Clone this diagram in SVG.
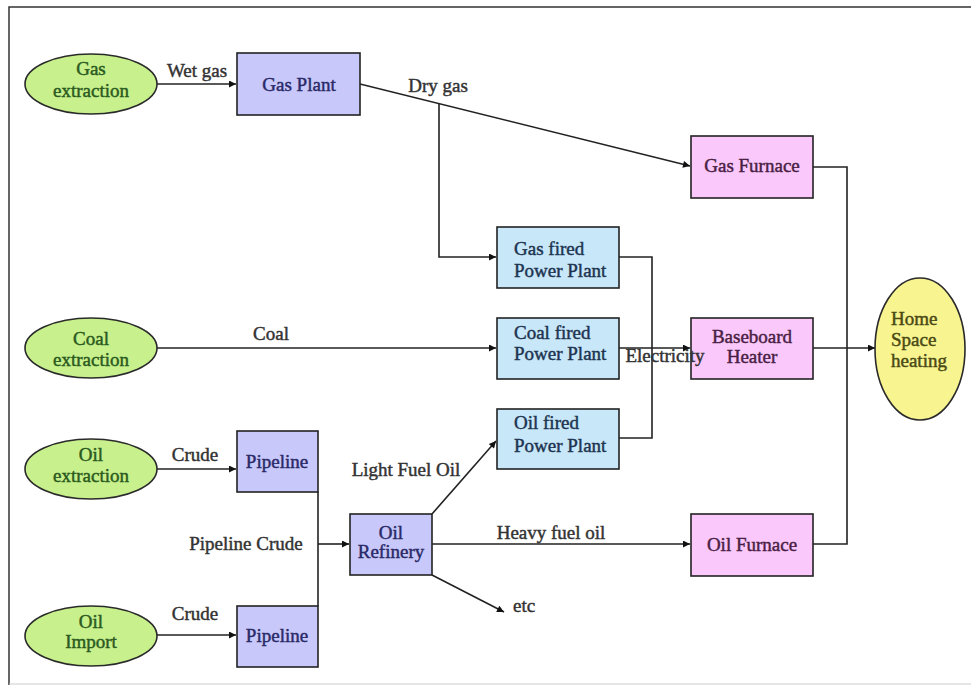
<svg xmlns="http://www.w3.org/2000/svg" width="971" height="686" viewBox="0 0 971 686">
<style>
text{font-family:"Liberation Serif","Times New Roman",serif;font-size:19px;stroke-width:0.45}
.lbl{fill:#333;stroke:#333}
.c{text-anchor:middle}
.src ellipse{fill:#c8f08c;stroke:#2a2a2a;stroke-width:1.6}
.src text{fill:#2a5a20;stroke:#2a5a20}
.pur rect{fill:#c8c8fa;stroke:#222;stroke-width:1.6}
.pur text{fill:#2a2a68;stroke:#2a2a68}
.blu rect{fill:#c8e8fa;stroke:#222;stroke-width:1.6}
.blu text{fill:#1e3450;stroke:#1e3450}
.pnk rect{fill:#fac8fa;stroke:#222;stroke-width:1.6}
.pnk text{fill:#4a1e44;stroke:#4a1e44}
.yel ellipse{fill:#f8f490;stroke:#2a2a2a;stroke-width:1.6}
.yel text{fill:#4a4a14;stroke:#4a4a14}
#connectors path,#connectors line{fill:none;stroke:#222;stroke-width:1.6}
.a{marker-end:url(#ah)}
</style>
<defs>
<marker id="ah" viewBox="0 0 10 10" refX="10" refY="5" markerWidth="9" markerHeight="7" markerUnits="userSpaceOnUse" orient="auto">
<path d="M0,0 L10,5 L0,10 z" fill="#111"/>
</marker>
</defs>
<rect x="0" y="0" width="971" height="686" fill="#fff"/>
<path d="M9,685 L9,7 L975,7" fill="none" stroke="#333" stroke-width="1.5"/>
<line x1="9" y1="684" x2="971" y2="684" stroke="#ccc" stroke-width="1"/>

<g id="connectors">
<line class="a" x1="157" y1="84" x2="236" y2="84"/>
<line class="a" x1="360" y1="84" x2="690" y2="166"/>
<path class="a" d="M439,104 L439,257 L496,257"/>
<line class="a" x1="157" y1="348" x2="496" y2="348"/>
<path d="M619,257 L652,257 L652,438 L619,438"/>
<line class="a" x1="619" y1="348" x2="690" y2="348"/>
<path d="M813,167 L847,167 L847,544 L813,544"/>
<line class="a" x1="813" y1="348" x2="875" y2="348"/>
<line class="a" x1="157" y1="469" x2="236" y2="469"/>
<line class="a" x1="157" y1="635" x2="236" y2="635"/>
<line x1="318" y1="492" x2="318" y2="606"/>
<line class="a" x1="318" y1="544" x2="349" y2="544"/>
<line class="a" x1="432" y1="514" x2="496" y2="441"/>
<line class="a" x1="432" y1="544" x2="690" y2="544"/>
<line class="a" x1="432" y1="575" x2="504" y2="612"/>
</g>

<g id="gas-extraction" class="src">
<ellipse cx="91" cy="84" rx="66" ry="30"/>
<text class="c" x="91" y="75">Gas</text>
<text class="c" x="91" y="97">extraction</text>
</g>
<g id="coal-extraction" class="src">
<ellipse cx="91" cy="348" rx="66" ry="30"/>
<text class="c" x="91" y="345">Coal</text>
<text class="c" x="91" y="366">extraction</text>
</g>
<g id="oil-extraction" class="src">
<ellipse cx="91" cy="469" rx="66" ry="30"/>
<text class="c" x="91" y="461">Oil</text>
<text class="c" x="91" y="482">extraction</text>
</g>
<g id="oil-import" class="src">
<ellipse cx="91" cy="636" rx="66" ry="30"/>
<text class="c" x="91" y="628">Oil</text>
<text class="c" x="91" y="648">Import</text>
</g>

<g id="gas-plant" class="pur">
<rect x="237" y="53" width="123" height="62"/>
<text class="c" x="299" y="91">Gas Plant</text>
</g>
<g id="pipeline-1" class="pur">
<rect x="237" y="431" width="81" height="61"/>
<text class="c" x="277" y="468">Pipeline</text>
</g>
<g id="pipeline-2" class="pur">
<rect x="237" y="606" width="81" height="61"/>
<text class="c" x="277" y="642">Pipeline</text>
</g>
<g id="oil-refinery" class="pur">
<rect x="350" y="514" width="82" height="61"/>
<text class="c" x="391" y="539">Oil</text>
<text class="c" x="391" y="558">Refinery</text>
</g>

<g id="gas-fired-power-plant" class="blu">
<rect x="497" y="227" width="122" height="61"/>
<text x="514" y="255">Gas fired</text>
<text x="514" y="277">Power Plant</text>
</g>
<g id="coal-fired-power-plant" class="blu">
<rect x="497" y="318" width="122" height="61"/>
<text x="514" y="339">Coal fired</text>
<text x="514" y="360">Power Plant</text>
</g>
<g id="oil-fired-power-plant" class="blu">
<rect x="497" y="409" width="122" height="60"/>
<text x="514" y="429">Oil fired</text>
<text x="514" y="452">Power Plant</text>
</g>

<g id="gas-furnace" class="pnk">
<rect x="691" y="136" width="122" height="62"/>
<text class="c" x="752" y="172">Gas Furnace</text>
</g>
<g id="baseboard-heater" class="pnk">
<rect x="691" y="318" width="122" height="61"/>
<text class="c" x="752" y="343">Baseboard</text>
<text class="c" x="752" y="363">Heater</text>
</g>
<g id="oil-furnace" class="pnk">
<rect x="691" y="514" width="122" height="62"/>
<text class="c" x="752" y="551">Oil Furnace</text>
</g>

<g id="home-space-heating" class="yel">
<ellipse cx="920" cy="349" rx="45" ry="71"/>
<text x="891" y="325">Home</text>
<text x="891" y="346">Space</text>
<text x="891" y="367">heating</text>
</g>

<g id="edge-labels">
<text class="lbl c" x="197" y="77">Wet gas</text>
<text class="lbl c" x="438" y="92">Dry gas</text>
<text class="lbl c" x="271" y="340">Coal</text>
<text class="lbl c" x="665" y="362">Electricity</text>
<text class="lbl c" x="195" y="461">Crude</text>
<text class="lbl c" x="195" y="620">Crude</text>
<text class="lbl c" x="246" y="550">Pipeline Crude</text>
<text class="lbl c" x="406" y="476">Light Fuel Oil</text>
<text class="lbl c" x="551" y="539">Heavy fuel oil</text>
<text class="lbl" x="513" y="612">etc</text>
</g>
</svg>
